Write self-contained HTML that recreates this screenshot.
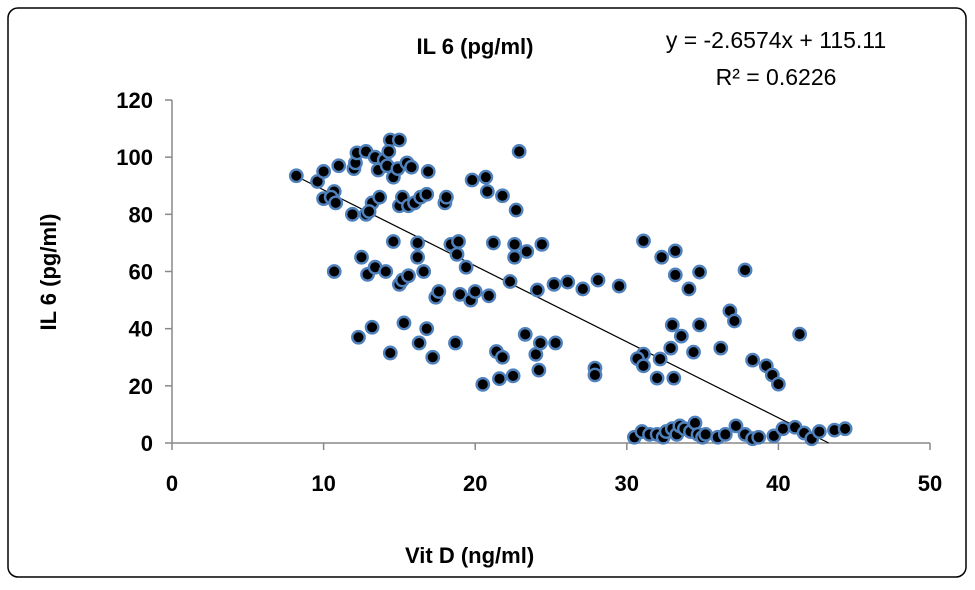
<!DOCTYPE html>
<html><head><meta charset="utf-8"><style>
body{margin:0;background:#fff;}
svg text{font-family:"Liberation Sans",sans-serif;}
</style></head><body>
<svg width="975" height="585">
<rect x="8" y="8" width="958" height="569" rx="10" fill="#fff" stroke="#000" stroke-width="1.5"/>
<text x="475" y="54" text-anchor="middle" font-size="22" font-weight="bold">IL 6 (pg/ml)</text>
<text x="776" y="48" text-anchor="middle" font-size="23">y = -2.6574x + 115.11</text>
<text x="776" y="85" text-anchor="middle" font-size="23">R² = 0.6226</text>
<text transform="translate(56,272) rotate(-90)" text-anchor="middle" font-size="22" font-weight="bold">IL 6 (pg/ml)</text>
<text x="405" y="563" font-size="22" font-weight="bold">Vit D (ng/ml)</text>
<g id="axes"></g>
<g id="trend"></g>
<g id="pts"></g>
</svg>
<script>
const xTicks=[0,10,20,30,40,50];
const yTicks=[0,20,40,60,80,100,120];
const slope=-2.6574, intercept=115.11;
const vitD=[8.2,9.6,10.0,10.0,10.7,10.5,11.0,10.8,10.7,11.9,12.0,12.1,12.2,12.8,12.5,12.3,12.8,12.9,13.2,13.4,13.0,13.2,13.4,13.6,13.7,14.0,14.4,14.2,14.3,14.1,14.4,14.6,14.6,15.0,14.9,15.0,15.2,15.0,15.2,15.3,15.6,15.5,15.6,15.8,16.0,16.2,16.2,16.3,16.4,16.6,16.8,16.8,16.9,17.2,17.4,17.6,18.0,18.1,18.4,18.8,18.9,18.7,19.0,19.4,19.7,19.8,20.0,20.5,20.7,20.8,20.9,21.2,21.4,21.6,21.8,21.8,22.3,22.5,22.6,22.7,22.6,22.9,23.3,23.4,24.0,24.1,24.4,24.3,24.2,25.3,25.2,26.1,27.1,28.1,29.5,31.1,32.3,33.2,33.2,34.8,34.1,37.8,36.8,37.1,33.0,33.6,34.8,32.9,34.4,36.2,41.4,38.3,39.2,39.6,40.0,27.9,27.9,31.1,30.7,31.1,32.2,32.0,33.1,30.5,31.0,31.5,32.0,32.4,32.6,33.0,33.3,33.5,33.8,34.2,34.5,34.7,35.0,35.2,36.0,36.5,37.2,37.8,38.3,38.7,39.7,40.3,41.1,41.7,42.2,42.7,43.7,44.4];
const il6=[93.5,91.5,85.5,95,88,86,97,84,60,80,96,98,101.5,102,65,37,80,59,84,61.5,81,40.5,100,95.5,86,99,106,97,102,60,31.5,70.5,93,106,96,83,86,55.5,57,42,58.5,98,83,96.5,84,65,70,35,86,60,40,87,95,30,51,53,84,86,69.5,66,70.5,35,52,61.5,50,92,53,20.5,93,88,51.5,70,32,22.5,30,86.5,56.5,23.5,65,81.5,69.5,102,38,67,31,53.5,69.5,35,25.5,35,55.5,56.3,53.9,57,54.9,70.7,65,67.2,58.8,59.8,53.9,60.5,46.2,42.7,41.3,37.4,41.3,33.2,31.8,33.2,38.1,29,27,23.8,20.6,26.2,23.8,31.1,29.5,27,29.4,22.7,22.7,2,4,3,3,2,4,5,3,6,5,4,7,3,2,3,2,3,6,3,1.5,2,2.5,5,5.5,3.5,1.5,4,4.5,5];
const X0=172,X1=930,Y0=443,Y1=100;
const sx=v=>X0+(v-0)/(50-0)*(X1-X0);
const sy=v=>Y0-(v-0)/(120-0)*(Y0-Y1);
const NS="http://www.w3.org/2000/svg";
function mk(t,a,p){const e=document.createElementNS(NS,t);for(const k in a)e.setAttribute(k,a[k]);p.appendChild(e);return e;}
const ax=document.getElementById('axes');
let l=mk('line',{x1:X0,y1:Y0,x2:X1,y2:Y0,stroke:'#888','stroke-width':1.5},ax);


l=mk('line',{x1:X0,y1:Y0,x2:X0,y2:Y1,stroke:'#888','stroke-width':1.5},ax);


xTicks.forEach(v=>{
  const t=mk('line',{x1:sx(v),y1:Y0,x2:sx(v),y2:Y0+7,stroke:'#888','stroke-width':1.5},ax);
  
  
  const tx=mk('text',{x:sx(v),y:Y0+48,'text-anchor':'middle','font-size':22,'font-weight':'bold'},ax);
  tx.textContent=v;
  
  
});
yTicks.forEach(v=>{
  const t=mk('line',{x1:X0-7,y1:sy(v),x2:X0,y2:sy(v),stroke:'#888','stroke-width':1.5},ax);
  
  
  const tx=mk('text',{x:X0-19,y:sy(v)+8,'text-anchor':'end','font-size':22,'font-weight':'bold'},ax);
  tx.textContent=v;
  
  
});
const xmin=Math.min(...vitD), xmax=-intercept/slope;
const tl=mk('line',{x1:sx(xmin),y1:sy(slope*xmin+intercept),x2:sx(xmax),y2:sy(slope*xmax+intercept),stroke:'#000','stroke-width':1.2},document.getElementById('trend'));


const pg=document.getElementById('pts');
vitD.forEach((v,i)=>{
  const c=mk('circle',{cx:sx(v),cy:sy(il6[i]),r:6.2,fill:'#000',stroke:'#4f81bd','stroke-width':2.4},pg);
  
  
});
</script>
</body></html>
